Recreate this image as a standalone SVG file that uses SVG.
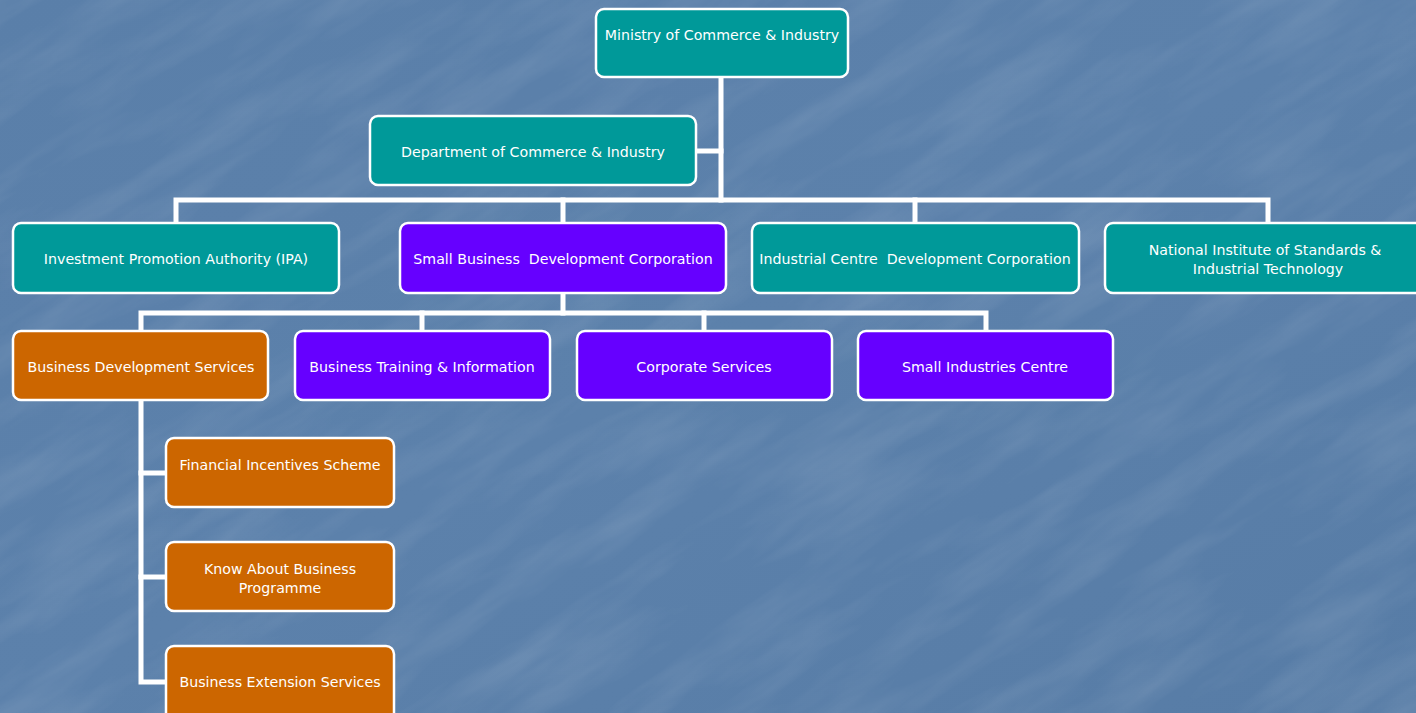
<svg xmlns="http://www.w3.org/2000/svg" width="1416" height="713" viewBox="0 0 1416 713">
  <defs>
    <linearGradient id="bg" x1="0" y1="0" x2="1" y2="1">
      <stop offset="0" stop-color="#5a7fa9"/>
      <stop offset="0.5" stop-color="#5c81ab"/>
      <stop offset="1" stop-color="#577ca6"/>
    </linearGradient>
    <filter id="marble" x="0" y="0" width="100%" height="100%">
      <feTurbulence type="fractalNoise" baseFrequency="0.006 0.03" numOctaves="4" seed="11" result="n"/>
      <feColorMatrix in="n" type="matrix" values="0 0 0 0 1  0 0 0 0 1  0 0 0 0 1  0 0 0.9 0 -0.36" result="w"/>
      <feComposite in="w" in2="SourceGraphic" operator="in"/>
    </filter>
    <style>
      .box { stroke: #ffffff; stroke-width: 2.5; }
      .teal { fill: #009999; }
      .purple { fill: #6600ff; }
      .orange { fill: #cc6600; }
      .lbl { font-family: Tahoma, "DejaVu Sans", "Liberation Sans", sans-serif; font-size: 14.2px; fill: #ffffff; text-anchor: middle; }
      .wire { fill: none; stroke: #ffffff; stroke-width: 5; stroke-linecap: square; }
    </style>
  </defs>

  <!-- backdrop: blue marble -->
  <rect width="1416" height="713" fill="url(#bg)"/>
  <g transform="rotate(-32 708 356)">
    <rect x="-400" y="-500" width="2216" height="1713" fill="#ffffff" filter="url(#marble)" opacity="0.22"/>
  </g>

  <!-- connectors -->
  <g id="connectors" class="wire">
    <path d="M721 77 V200"/>
    <path d="M696 151 H721"/>
    <path d="M176 223 V200 H1268 V223"/>
    <path d="M563 200 V223"/>
    <path d="M915 200 V223"/>
    <path d="M563 293 V313"/>
    <path d="M141 331 V313 H986 V331"/>
    <path d="M422 313 V331"/>
    <path d="M704 313 V331"/>
    <path d="M141 400 V682 H166"/>
    <path d="M141 473 H166"/>
    <path d="M141 577 H166"/>
  </g>

  <g id="ministry">
    <rect class="box teal" x="596" y="9" width="252" height="68" rx="8"/>
    <text class="lbl" x="722" y="40">Ministry of Commerce &amp; Industry</text>
  </g>
  <g id="department">
    <rect class="box teal" x="370" y="116" width="326" height="69" rx="8"/>
    <text class="lbl" x="533" y="157">Department of Commerce &amp; Industry</text>
  </g>

  <g id="ipa">
    <rect class="box teal" x="13" y="223" width="326" height="70" rx="8"/>
    <text class="lbl" x="176" y="264">Investment Promotion Authority (IPA)</text>
  </g>
  <g id="sbdc">
    <rect class="box purple" x="400" y="223" width="326" height="70" rx="8"/>
    <text class="lbl" x="563" y="264" xml:space="preserve">Small Business  Development Corporation</text>
  </g>
  <g id="icdc">
    <rect class="box teal" x="752" y="223" width="327" height="70" rx="8"/>
    <text class="lbl" x="915" y="264" xml:space="preserve">Industrial Centre  Development Corporation</text>
  </g>
  <g id="nist">
    <rect class="box teal" x="1105" y="223" width="326" height="70" rx="8"/>
    <text class="lbl" x="1265" y="255">National Institute of Standards &amp;</text>
    <text class="lbl" x="1268" y="274">Industrial Technology</text>
  </g>

  <g id="bds">
    <rect class="box orange" x="13" y="331" width="255" height="69" rx="8"/>
    <text class="lbl" x="141" y="372">Business Development Services</text>
  </g>
  <g id="bti">
    <rect class="box purple" x="295" y="331" width="255" height="69" rx="8"/>
    <text class="lbl" x="422" y="372">Business Training &amp; Information</text>
  </g>
  <g id="corporate">
    <rect class="box purple" x="577" y="331" width="255" height="69" rx="8"/>
    <text class="lbl" x="704" y="372">Corporate Services</text>
  </g>
  <g id="sic">
    <rect class="box purple" x="858" y="331" width="255" height="69" rx="8"/>
    <text class="lbl" x="985" y="372">Small Industries Centre</text>
  </g>

  <g id="fis">
    <rect class="box orange" x="166" y="438" width="228" height="69" rx="8"/>
    <text class="lbl" x="280" y="470">Financial Incentives Scheme</text>
  </g>
  <g id="kab">
    <rect class="box orange" x="166" y="542" width="228" height="69" rx="8"/>
    <text class="lbl" x="280" y="574">Know About Business</text>
    <text class="lbl" x="280" y="593">Programme</text>
  </g>
  <g id="bes">
    <rect class="box orange" x="166" y="646" width="228" height="76" rx="8"/>
    <text class="lbl" x="280" y="687">Business Extension Services</text>
  </g>
</svg>
